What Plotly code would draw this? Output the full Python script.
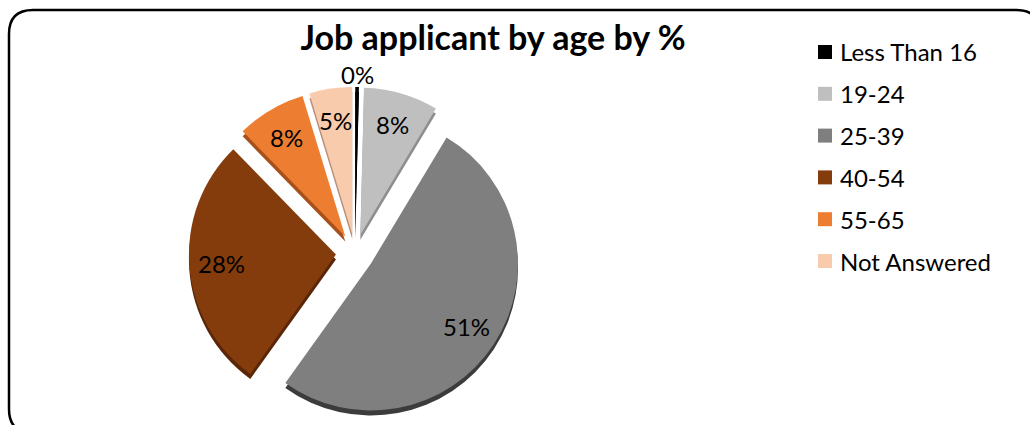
import math
import plotly.graph_objects as go

# Applicants by age band (percent of all applicants)
age_bands = ["Less Than 16", "19-24", "25-39", "40-54", "55-65", "Not Answered"]
shares = [0.4, 8.2, 51.3, 27.8, 7.6, 4.7]
face_colors = ["#000000", "#BFBFBF", "#7F7F7F", "#843C0C", "#ED7D31", "#F8CBAD"]
side_colors = ["#000000", "#8E8E8E", "#3C3C3C", "#5A2608", "#A8501A", "#B9907A"]

W, H = 1030, 425
FONT = "Lato"

# pie placement in pixels
cx, cy, radius, pull = 355, 253, 147, 0.13
depth = 5
half = radius * (1 + pull)


def px_x(x):
    return min(max(x / W, 0.0), 1.0)


def px_y(y):
    return min(max(1 - y / H, 0.0), 1.0)


fig = go.Figure()

# darker copy underneath gives the slices a little thickness
fig.add_trace(go.Pie(
    labels=age_bands, values=shares, sort=False, direction="clockwise", rotation=0,
    marker=dict(colors=side_colors, line=dict(width=0)),
    pull=[pull] * len(shares), textinfo="none", hoverinfo="skip", showlegend=False,
    domain=dict(x=[px_x(cx - half), px_x(cx + half)],
                y=[px_y(cy + half + depth), px_y(cy - half + depth)]),
))

fig.add_trace(go.Pie(
    labels=age_bands, values=shares, sort=False, direction="clockwise", rotation=0,
    marker=dict(colors=face_colors, line=dict(width=0)),
    pull=[pull] * len(shares),
    textinfo="none",
    hovertemplate="%{label}: %{percent:.0%}<extra></extra>",
    showlegend=False,
    domain=dict(x=[px_x(cx - half), px_x(cx + half)],
                y=[px_y(cy + half), px_y(cy - half)]),
))

shapes = []
annotations = []

# percentage labels, placed along each slice's middle angle
total = sum(shares)
start = 0.0
for i, v in enumerate(shares):
    frac = v / total
    mid = 2 * math.pi * (start + frac / 2)
    start += frac
    if frac < 0.02:
        dist = radius * (1 + pull) + 12      # too thin: label sits just outside
    else:
        dist = radius * (0.78 + pull)
    lx = cx + dist * math.sin(mid)
    ly = cy - dist * math.cos(mid)
    annotations.append(dict(xref="paper", yref="paper", x=px_x(lx), y=px_y(ly),
                            xanchor="center", yanchor="middle", showarrow=False,
                            text=f"{round(frac * 100)}%",
                            font=dict(family=FONT, size=24, color="#000000")))

# legend: colour square plus label for every age band
leg_top, leg_step = 52, 41.8
for i, (band, col) in enumerate(zip(age_bands, face_colors)):
    yc = leg_top + i * leg_step
    shapes.append(dict(type="rect", xref="paper", yref="paper",
                       x0=px_x(818), x1=px_x(832), y0=px_y(yc + 7), y1=px_y(yc - 7),
                       fillcolor=col, line=dict(width=0)))
    annotations.append(dict(xref="paper", yref="paper", x=px_x(838), y=px_y(yc),
                            xanchor="left", yanchor="middle", showarrow=False,
                            text=band, font=dict(family=FONT, size=24, color="#000000")))

# rounded outer frame (right and bottom edges run past the page)
xl, xr, yt, yb = 9 / W, 1040 / W, 1 - 10 / H, 1 - 433 / H
rx, ry = 24 / W, 24 / H
frame = (f"M {xl},{yt - ry} Q {xl},{yt} {xl + rx},{yt} L {xr - rx},{yt} "
         f"Q {xr},{yt} {xr},{yt - ry} L {xr},{yb + ry} Q {xr},{yb} {xr - rx},{yb} "
         f"L {xl + rx},{yb} Q {xl},{yb} {xl},{yb + ry} Z")
shapes.append(dict(type="path", xref="paper", yref="paper", path=frame,
                   line=dict(color="#000000", width=2.5)))

fig.update_layout(
    width=W, height=H, autosize=False,
    margin=dict(l=0, r=0, t=0, b=0, autoexpand=False),
    showlegend=False,
    paper_bgcolor="#FFFFFF", plot_bgcolor="#FFFFFF",
    title=dict(text="<b>Job applicant by age by %</b>", x=493 / W, xanchor="center",
               y=1 - 38 / H, yref="container", yanchor="middle",
               font=dict(family=FONT, size=34, color="#000000")),
    shapes=shapes,
    annotations=annotations,
)

fig.write_html("out.html")
